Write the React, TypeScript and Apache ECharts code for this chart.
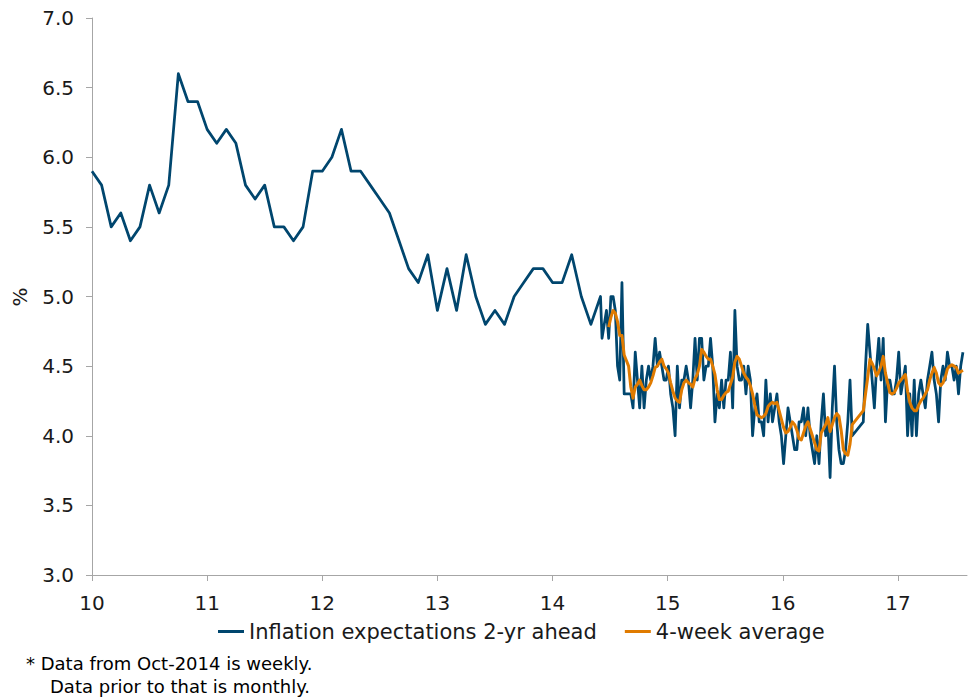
import React, { useEffect, useRef } from "react";
import * as echarts from "echarts";

// Monthly data: Jan 2010 .. Jun 2014
const monthlyStart = 10;
const monthlyValues = [
  5.9, 5.8, 5.5, 5.6, 5.4, 5.5, 5.8, 5.6, 5.8, 6.6, 6.4, 6.4,
  6.2, 6.1, 6.2, 6.1, 5.8, 5.7, 5.8, 5.5, 5.5, 5.4, 5.5, 5.9,
  5.9, 6.0, 6.2, 5.9, 5.9, 5.8, 5.7, 5.6, 5.4, 5.2, 5.1, 5.3,
  4.9, 5.2, 4.9, 5.3, 5.0, 4.8, 4.9, 4.8, 5.0, 5.1, 5.2, 5.2,
  5.1, 5.1, 5.3, 5.0, 4.8, 5.0,
];

// Weekly data (null = missing week)
const weeklyStart = 14.43;
const weeklyValues = [
  4.7, 4.8, 4.9, 4.7, 5.0, 5.0, 4.9, 4.5, 4.4, 5.1,
  4.3, 4.3, 4.3, 4.3, 4.2, 4.6, 4.4, 4.2, 4.5, 4.2,
  4.4, 4.5, 4.4, 4.5, 4.7, 4.5, 4.6, 4.5, 4.4, 4.4,
  4.5, 4.3, 4.2, 4.0, 4.5, 4.2, 4.4, 4.4, 4.5, 4.4,
  4.2, 4.4, 4.7, 4.4, 4.7, 4.7, 4.4, 4.5, 4.5, 4.7,
  4.5, 4.1, 4.3, 4.2, 4.4, 4.2, 4.4, 4.4, 4.6, 4.2,
  4.9, 4.5, 4.4, 4.4, 4.5, 4.3, 4.5, 4.4, 4.0, 4.2,
  4.3, 4.1, 4.1, 4.0, 4.4, 4.1, 4.3, 4.1, 4.2, 4.3,
  4.1, 4.0, 3.8, 4.0, 4.2, 4.1, 4.0, 3.9, 3.9, 4.1,
  4.1, 4.2, 4.0, 4.2, 4.0, 3.9, 3.8, 4.0, 3.8, 4.1,
  4.3, 4.0, 4.1, 3.7, 4.2, 4.5, 4.1, 3.9, 3.8, 3.8,
  3.9, 4.1, 4.4, 4.0, null, null, null, null, 4.1, 4.5,
  4.8, 4.6, 4.4, 4.2, 4.5, 4.7, 4.4, 4.7, 4.1, 4.4,
  4.4, 4.3, 4.3, 4.4, 4.6, 4.3, 4.4, 4.5, 4.0, 4.3,
  4.0, 4.4, 4.0, 4.3, 4.4, 4.3, 4.2, 4.4, 4.5, 4.6,
  4.4, 4.3, 4.1, 4.4, 4.5, 4.4, 4.6, 4.5, 4.5, 4.4,
  4.5, 4.3, 4.5, 4.6,
];

const avgValues = [
  null, null, null, 4.78, 4.85, 4.9, 4.88, 4.82, 4.72, 4.72,
  4.58, 4.54, 4.5, 4.35, 4.27, 4.35, 4.37, 4.4, 4.36, 4.33,
  4.33, 4.35, 4.38, 4.43, 4.49, 4.5, 4.53, 4.55, 4.5, 4.48,
  4.45, 4.38, 4.32, 4.27, 4.25, 4.24, 4.33, 4.38, 4.4, 4.38,
  4.37, 4.35, 4.41, 4.44, 4.5, 4.62, 4.6, 4.57, 4.55, 4.55,
  4.5, 4.44, 4.33, 4.26, 4.26, 4.29, 4.31, 4.32, 4.37, 4.42,
  4.53, 4.57, 4.55, 4.5, 4.45, 4.42, 4.4, 4.36, 4.3, 4.22,
  4.15, 4.14, 4.13, 4.14, 4.16, 4.21, 4.23, 4.24, 4.23, 4.24,
  4.18, 4.12, 4.06, 4.02, 4.03, 4.06, 4.1, 4.08, 4.04, 3.98,
  3.97, 4.02, 4.07, 4.1, 4.05, 4.0, 3.95, 3.9, 3.89, 4.02,
  4.05, 4.08, 4.13, 4.03, 4.08, 4.13, 4.16, 4.14, 4.04, 3.9,
  3.87, 3.86, 3.94, 4.08, null, null, null, null, 4.18, 4.3,
  4.42, 4.55, 4.52, 4.48, 4.43, 4.46, 4.5, 4.57, 4.45, 4.38,
  4.31, 4.3, 4.31, 4.34, 4.38, 4.4, 4.42, 4.44, 4.32, 4.24,
  4.2, 4.18, 4.18, 4.22, 4.25, 4.27, 4.3, 4.33, 4.4, 4.45,
  4.49, 4.45, 4.38, 4.36, 4.38, 4.42, 4.48, 4.5, 4.51, 4.5,
  4.49, 4.45, 4.46, 4.47,
];

const xTicks = [10, 11, 12, 13, 14, 15, 16, 17];
const seriesNames = ["Inflation expectations 2-yr ahead", "4-week average"];
const footnotes = ["* Data from Oct-2014 is weekly.", "Data prior to that is monthly."];

const FONT = "DejaVu Sans, Verdana, sans-serif";

export default function App() {
  const ref = useRef<HTMLDivElement>(null);

  useEffect(() => {
    if (!ref.current) return;
    const chart = echarts.init(ref.current, undefined, { renderer: "svg" });

    const blueData: [number, number][] = [];
    monthlyValues.forEach((v, i) => blueData.push([monthlyStart + i / 12, v]));
    weeklyValues.forEach((v, k) => {
      if (v !== null) blueData.push([weeklyStart + k / 52, v as number]);
    });
    const orangeData: [number, number][] = [];
    avgValues.forEach((v, k) => {
      if (v !== null) orangeData.push([weeklyStart + k / 52, v as number]);
    });

    chart.setOption({
      animation: false,
      backgroundColor: "#ffffff",
      grid: { left: 92, right: 4, top: 18, bottom: 125, containLabel: false },
      xAxis: {
        type: "value",
        min: 10,
        max: 17.6,
        interval: 1,
        splitLine: { show: false },
        axisLine: { show: true, lineStyle: { color: "#a6a6a6", width: 1 } },
        axisTick: { show: true, length: 6, lineStyle: { color: "#a6a6a6" }, customValues: xTicks },
        axisLabel: {
          customValues: xTicks,
          margin: 18,
          fontSize: 20,
          fontFamily: FONT,
          color: "#1a1a1a",
          formatter: (v: number) => String(v),
        },
      },
      yAxis: {
        type: "value",
        min: 3,
        max: 7,
        interval: 0.5,
        splitLine: { show: false },
        axisLine: { show: true, lineStyle: { color: "#a6a6a6", width: 1 } },
        axisTick: { show: true, length: 6, lineStyle: { color: "#a6a6a6" } },
        axisLabel: {
          margin: 18,
          fontSize: 20,
          fontFamily: FONT,
          color: "#1a1a1a",
          formatter: (v: number) => v.toFixed(1),
        },
      },
      legend: {
        left: 218,
        top: 621,
        padding: 0,
        itemGap: 28,
        itemWidth: 26,
        itemHeight: 3,
        icon: "rect",
        textStyle: { fontSize: 21, fontFamily: FONT, color: "#1a1a1a" },
        data: seriesNames,
      },
      graphic: [
        {
          type: "text",
          x: 20,
          y: 297,
          rotation: Math.PI / 2,
          style: {
            text: "%",
            fontSize: 20,
            fontFamily: FONT,
            fill: "#1a1a1a",
            textAlign: "center",
            textVerticalAlign: "middle",
          },
        },
        {
          type: "text",
          x: 26,
          y: 663,
          style: {
            text: footnotes[0],
            fontSize: 18,
            fontFamily: FONT,
            fill: "#000000",
            textAlign: "left",
            textVerticalAlign: "middle",
          },
        },
        {
          type: "text",
          x: 50,
          y: 686,
          style: {
            text: footnotes[1],
            fontSize: 18,
            fontFamily: FONT,
            fill: "#000000",
            textAlign: "left",
            textVerticalAlign: "middle",
          },
        },
      ],
      series: [
        {
          name: seriesNames[0],
          type: "line",
          data: blueData,
          showSymbol: false,
          symbol: "none",
          connectNulls: true,
          lineStyle: { color: "#00466e", width: 2.75, join: "round" },
          itemStyle: { color: "#00466e" },
          z: 2,
        },
        {
          name: seriesNames[1],
          type: "line",
          data: orangeData,
          showSymbol: false,
          symbol: "none",
          connectNulls: true,
          lineStyle: { color: "#e07b00", width: 3, join: "round" },
          itemStyle: { color: "#e07b00" },
          z: 3,
        },
      ],
    });

    return () => chart.dispose();
  }, []);

  return (
    <div
      ref={ref}
      style={{ position: "fixed", left: 0, top: 0, width: 971, height: 700, background: "#fff" }}
    />
  );
}
